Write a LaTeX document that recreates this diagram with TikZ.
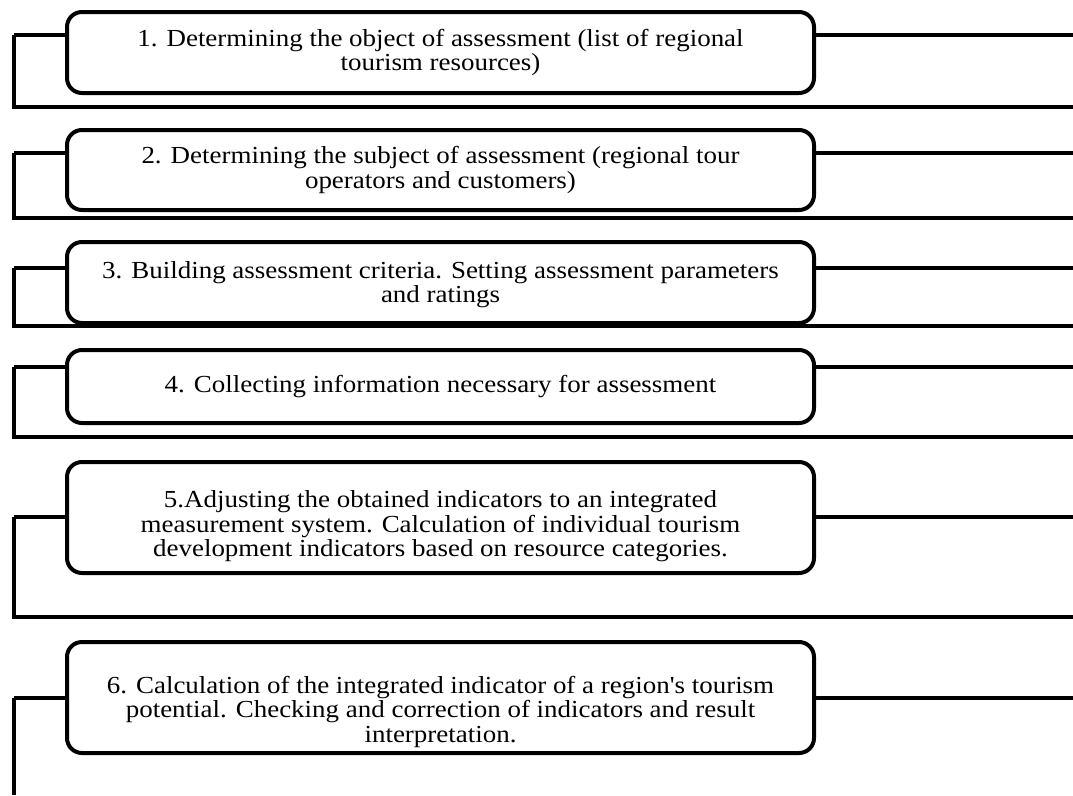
\documentclass[tikz,border=0pt]{standalone}
\usepackage{fontspec}
\newfontfamily\boxfont{Liberation Serif}[FakeStretch=1.1,Ligatures=TeXOff]
\begin{document}
\begin{tikzpicture}[x=1pt,y=-1pt,
  stepbox/.style={draw=black,line width=4pt,rounded corners=15pt,fill=white,
    minimum width=747pt,inner sep=0pt},
  steptext/.style={inner sep=0pt,align=center,
    font=\boxfont\fontsize{24.5}{24.5}\selectfont},
  conn/.style={draw=black,line width=4pt,line join=miter}]
\useasboundingbox (0,0) rectangle (1073,795);
% coordinates for connector corners
\foreach \n/\t/\b in {1/35/107,2/153/218,3/268/326,4/367/437,5/517/617}{
  \coordinate (L\n t) at (13.5,\t);
  \coordinate (L\n b) at (13.5,\b);
  \coordinate (R\n t) at (1073,\t);
  \coordinate (R\n b) at (1073,\b);
}
\coordinate (L6t) at (13.5,698);
\coordinate (L6b) at (13.5,795);
\coordinate (R6t) at (1073,698);
% connectors
\foreach \n in {1,2,3,4,5}{
  \draw[conn] (L\n t) -- (L\n b) -- (R\n b);
}
\draw[conn] (L6t) -- (L6b);
% boxes
\node[stepbox,minimum height=81pt] (b1) at (440.5,52.5) {};
\node[stepbox,minimum height=80pt] (b2) at (440.5,170) {};
\node[stepbox,minimum height=81pt] (b3) at (440.5,282.5) {};
\node[stepbox,minimum height=73pt] (b4) at (440.5,386.5) {};
\node[stepbox,minimum height=111pt] (b5) at (440.5,517.5) {};
\node[stepbox,minimum height=111pt] (b6) at (440.5,697.5) {};
% texts
\node[steptext] (t1) at (b1.center)
  {1. Determining the object of assessment (list of regional\\tourism resources)};
\node[steptext] (t2) at (b2.center)
  {2. Determining the subject of assessment (regional tour\\operators and customers)};
\node[steptext] (t3) at ([yshift=-2pt]b3.center)
  {3. Building assessment criteria. Setting assessment parameters\\and ratings};
\node[steptext] (t4) at (b4.center)
  {4. Collecting information necessary for assessment};
\node[steptext] (t5) at ([yshift=-9pt]b5.center)
  {5.Adjusting the obtained indicators to an integrated\\measurement system. Calculation of individual tourism\\development indicators based on resource categories.};
\node[steptext] (t6) at ([yshift=-14pt]b6.center)
  {6. Calculation of the integrated indicator of a region's tourism\\potential. Checking and correction of indicators and result\\interpretation.};
% side connectors
\foreach \n in {1,2,3,4,5,6}{
  \draw[conn] (b\n.west |- L\n t) -- (L\n t);
  \draw[conn] (b\n.east |- R\n t) -- (R\n t);
}
\end{tikzpicture}
\end{document}
